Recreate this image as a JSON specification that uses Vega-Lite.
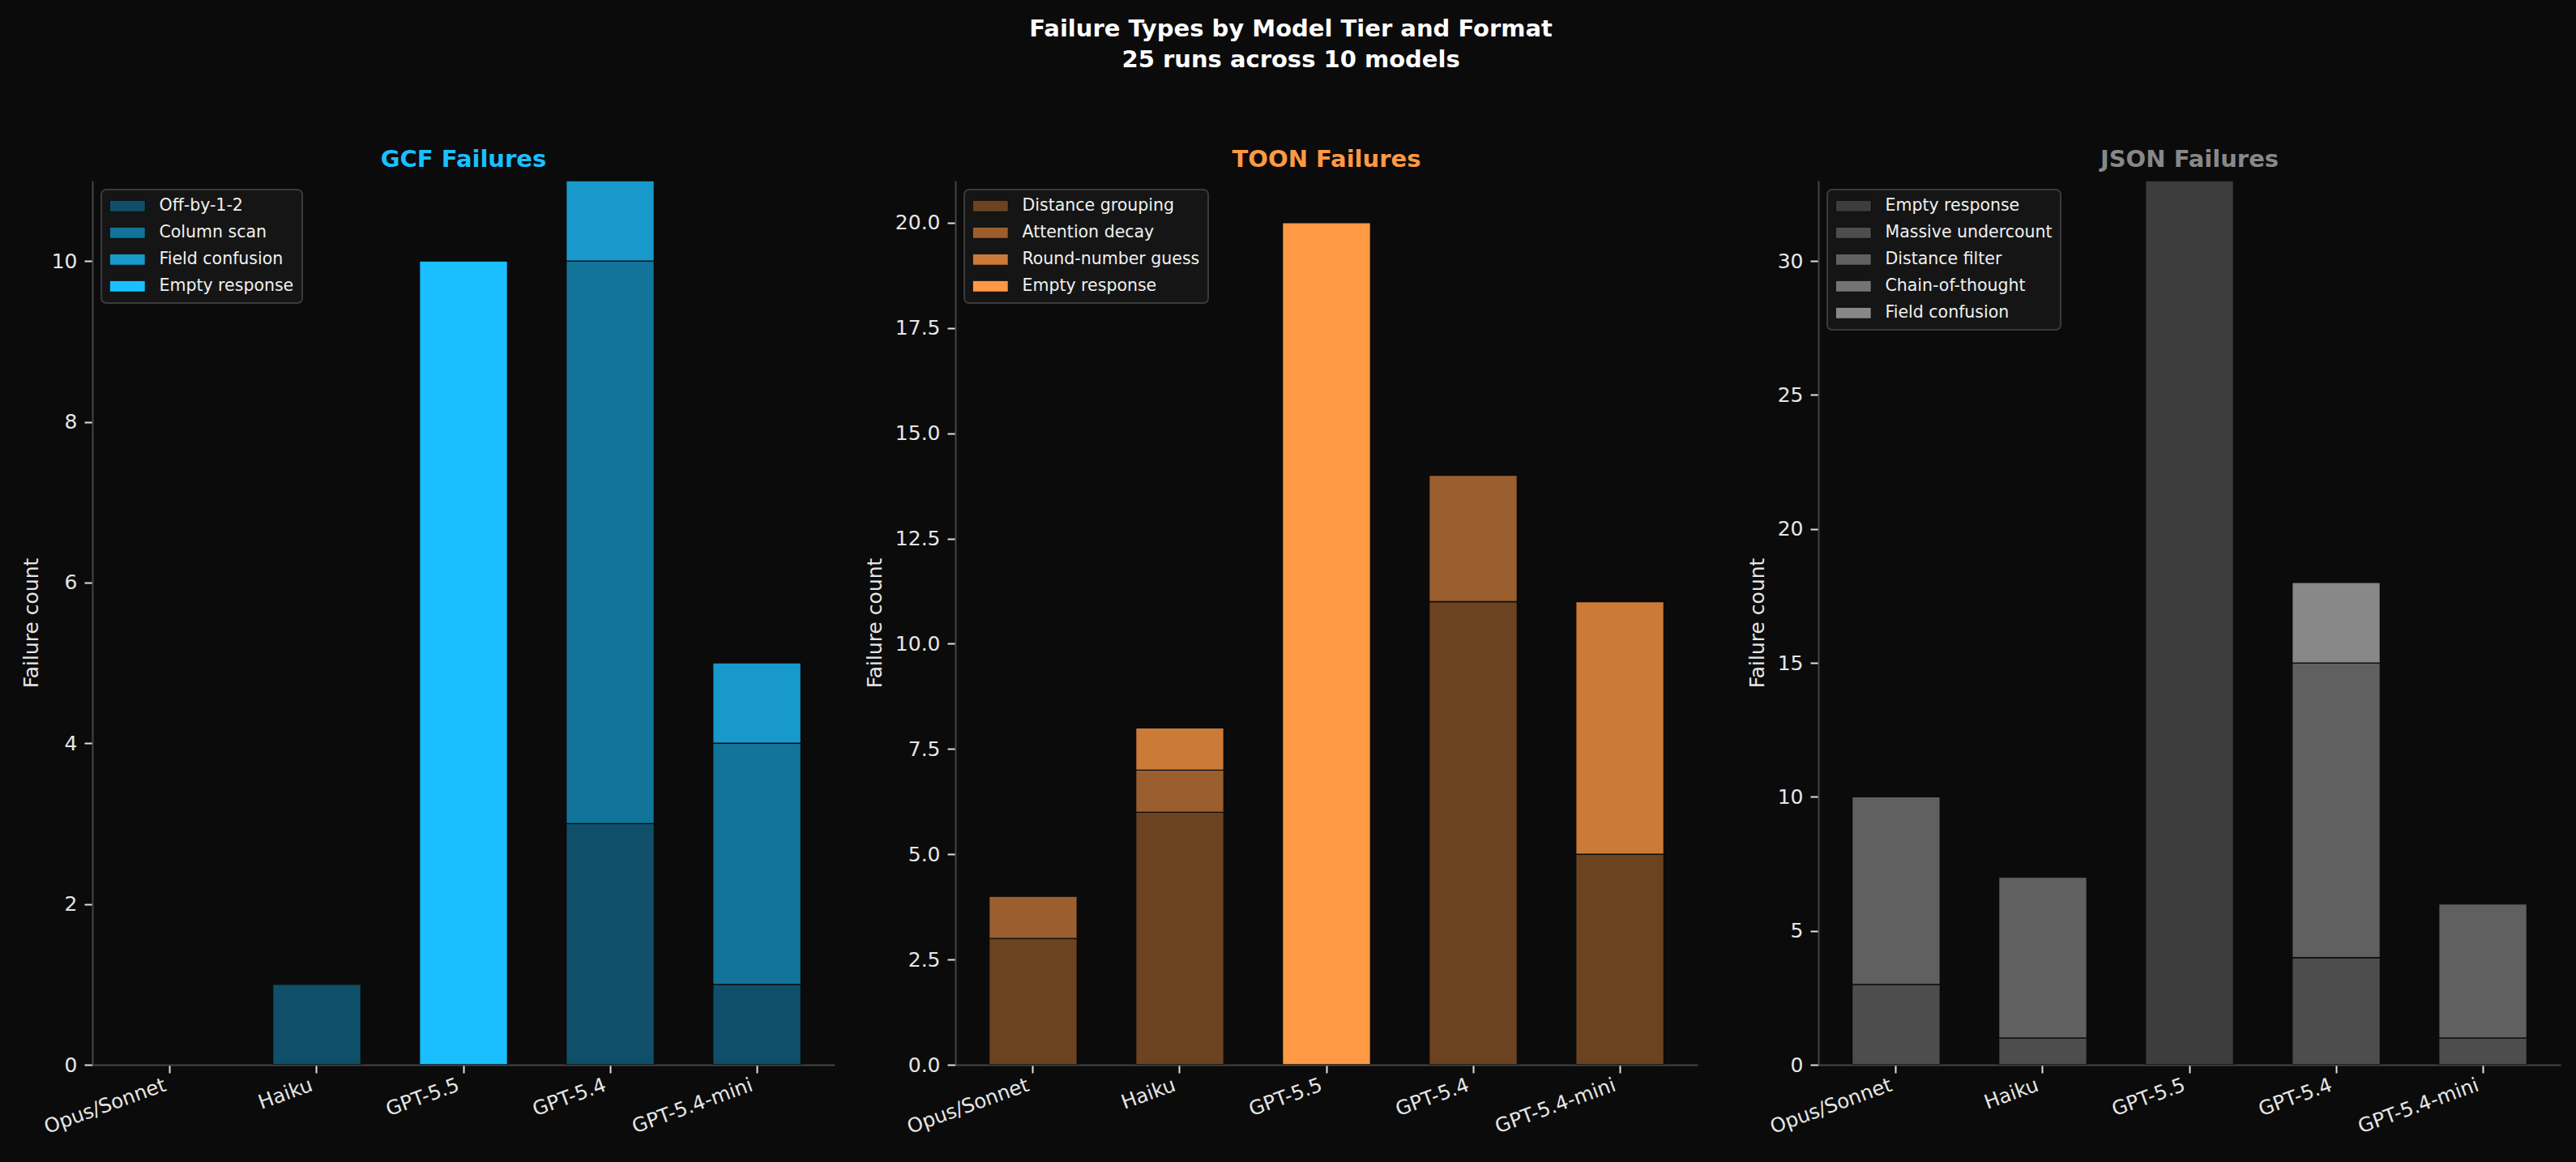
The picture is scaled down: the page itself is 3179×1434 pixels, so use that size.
{
  "$schema": "https://vega.github.io/schema/vega-lite/v6.json",
  "background": "#0b0b0b",
  "padding": {"left": 26, "top": 22, "right": 23, "bottom": 40},
  "title": {
    "text": ["Failure Types by Model Tier and Format", "25 runs across 10 models"],
    "fontSize": 29,
    "fontWeight": "bold",
    "color": "#ffffff",
    "anchor": "middle",
    "lineHeight": 38,
    "offset": 94
  },
  "datasets": {
    "gcf": [
      {"model": "Haiku", "type": "Off-by-1-2", "count": 1},
      {"model": "GPT-5.5", "type": "Empty response", "count": 10},
      {"model": "GPT-5.4", "type": "Off-by-1-2", "count": 3},
      {"model": "GPT-5.4", "type": "Column scan", "count": 7},
      {"model": "GPT-5.4", "type": "Field confusion", "count": 1},
      {"model": "GPT-5.4-mini", "type": "Off-by-1-2", "count": 1},
      {"model": "GPT-5.4-mini", "type": "Column scan", "count": 3},
      {"model": "GPT-5.4-mini", "type": "Field confusion", "count": 1}
    ],
    "gcfTypes": [
      {"type": "Off-by-1-2", "rank": 1},
      {"type": "Column scan", "rank": 2},
      {"type": "Field confusion", "rank": 3},
      {"type": "Empty response", "rank": 4}
    ],
    "toon": [
      {"model": "Opus/Sonnet", "type": "Distance grouping", "count": 3},
      {"model": "Opus/Sonnet", "type": "Attention decay", "count": 1},
      {"model": "Haiku", "type": "Distance grouping", "count": 6},
      {"model": "Haiku", "type": "Attention decay", "count": 1},
      {"model": "Haiku", "type": "Round-number guess", "count": 1},
      {"model": "GPT-5.5", "type": "Empty response", "count": 20},
      {"model": "GPT-5.4", "type": "Distance grouping", "count": 11},
      {"model": "GPT-5.4", "type": "Attention decay", "count": 3},
      {"model": "GPT-5.4-mini", "type": "Distance grouping", "count": 5},
      {"model": "GPT-5.4-mini", "type": "Round-number guess", "count": 6}
    ],
    "toonTypes": [
      {"type": "Distance grouping", "rank": 1},
      {"type": "Attention decay", "rank": 2},
      {"type": "Round-number guess", "rank": 3},
      {"type": "Empty response", "rank": 4}
    ],
    "json": [
      {"model": "Opus/Sonnet", "type": "Massive undercount", "count": 3},
      {"model": "Opus/Sonnet", "type": "Distance filter", "count": 7},
      {"model": "Haiku", "type": "Massive undercount", "count": 1},
      {"model": "Haiku", "type": "Distance filter", "count": 6},
      {"model": "GPT-5.5", "type": "Empty response", "count": 33},
      {"model": "GPT-5.4", "type": "Massive undercount", "count": 4},
      {"model": "GPT-5.4", "type": "Distance filter", "count": 11},
      {"model": "GPT-5.4", "type": "Field confusion", "count": 3},
      {"model": "GPT-5.4-mini", "type": "Massive undercount", "count": 1},
      {"model": "GPT-5.4-mini", "type": "Distance filter", "count": 5}
    ],
    "jsonTypes": [
      {"type": "Empty response", "rank": 1},
      {"type": "Massive undercount", "rank": 2},
      {"type": "Distance filter", "rank": 3},
      {"type": "Chain-of-thought", "rank": 4},
      {"type": "Field confusion", "rank": 5}
    ]
  },
  "spacing": 149,
  "bounds": "flush",
  "resolve": {
    "scale": {"color": "independent", "y": "independent", "x": "independent"},
    "axis": {"x": "independent", "y": "independent"},
    "legend": {"color": "independent"}
  },
  "hconcat": [
    {
      "data": {"name": "gcf"},
      "transform": [{"lookup": "type", "from": {"data": {"name": "gcfTypes"}, "key": "type", "fields": ["rank"]}}],
      "title": {"text": "GCF Failures", "color": "#1abfff", "fontSize": 29, "fontWeight": "bold", "offset": 11},
      "width": 916,
      "height": 1091,
      "mark": {"type": "bar", "clip": true, "stroke": "#0b0b0b", "strokeWidth": 1.3},
      "encoding": {
        "x": {
          "field": "model", "type": "nominal", "title": null,
          "scale": {"domain": ["Opus/Sonnet", "Haiku", "GPT-5.5", "GPT-5.4", "GPT-5.4-mini"], "paddingInner": 0.4, "paddingOuter": 0.23}
        },
        "y": {
          "field": "count", "type": "quantitative", "title": "Failure count",
          "scale": {"domain": [0, 11], "nice": false},
          "axis": {"values": [0, 2, 4, 6, 8, 10]}
        },
        "order": {"field": "rank", "type": "quantitative"},
        "color": {
          "field": "type", "type": "nominal",
          "scale": {"domain": ["Off-by-1-2", "Column scan", "Field confusion", "Empty response"], "range": ["#0f4f69", "#137499", "#179acb", "#1abfff"]},
          "legend": {"title": null}
        }
      }
    },
    {
      "data": {"name": "toon"},
      "transform": [{"lookup": "type", "from": {"data": {"name": "toonTypes"}, "key": "type", "fields": ["rank"]}}],
      "title": {"text": "TOON Failures", "color": "#ff9944", "fontSize": 29, "fontWeight": "bold", "offset": 11},
      "width": 916,
      "height": 1091,
      "mark": {"type": "bar", "clip": true, "stroke": "#0b0b0b", "strokeWidth": 1.3},
      "encoding": {
        "x": {
          "field": "model", "type": "nominal", "title": null,
          "scale": {"domain": ["Opus/Sonnet", "Haiku", "GPT-5.5", "GPT-5.4", "GPT-5.4-mini"], "paddingInner": 0.4, "paddingOuter": 0.23}
        },
        "y": {
          "field": "count", "type": "quantitative", "title": "Failure count",
          "scale": {"domain": [0, 21], "nice": false},
          "axis": {"values": [0, 2.5, 5, 7.5, 10, 12.5, 15, 17.5, 20], "format": ".1f"}
        },
        "order": {"field": "rank", "type": "quantitative"},
        "color": {
          "field": "type", "type": "nominal",
          "scale": {"domain": ["Distance grouping", "Attention decay", "Round-number guess", "Empty response"], "range": ["#6b4321", "#9b5e2e", "#cc7a38", "#ff9944"]},
          "legend": {"title": null}
        }
      }
    },
    {
      "data": {"name": "json"},
      "transform": [{"lookup": "type", "from": {"data": {"name": "jsonTypes"}, "key": "type", "fields": ["rank"]}}],
      "title": {"text": "JSON Failures", "color": "#888888", "fontSize": 29, "fontWeight": "bold", "offset": 11},
      "width": 916,
      "height": 1091,
      "mark": {"type": "bar", "clip": true, "stroke": "#0b0b0b", "strokeWidth": 1.3},
      "encoding": {
        "x": {
          "field": "model", "type": "nominal", "title": null,
          "scale": {"domain": ["Opus/Sonnet", "Haiku", "GPT-5.5", "GPT-5.4", "GPT-5.4-mini"], "paddingInner": 0.4, "paddingOuter": 0.23}
        },
        "y": {
          "field": "count", "type": "quantitative", "title": "Failure count",
          "scale": {"domain": [0, 33], "nice": false},
          "axis": {"values": [0, 5, 10, 15, 20, 25, 30]}
        },
        "order": {"field": "rank", "type": "quantitative"},
        "color": {
          "field": "type", "type": "nominal",
          "scale": {"domain": ["Empty response", "Massive undercount", "Distance filter", "Chain-of-thought", "Field confusion"], "range": ["#3d3d3d", "#4d4d4d", "#606060", "#747474", "#888888"]},
          "legend": {"title": null}
        }
      }
    }
  ],
  "config": {
    "font": "DejaVu Sans",
    "view": {"stroke": null},
    "axis": {
      "grid": false,
      "domainColor": "#444444",
      "domainWidth": 2,
      "tickColor": "#e0e0e0",
      "tickWidth": 2,
      "tickSize": 10,
      "labelColor": "#e6e6e6",
      "labelFont": "DejaVu Sans",
      "labelFontSize": 25,
      "labelPadding": 9,
      "titleColor": "#e6e6e6",
      "titleFont": "DejaVu Sans",
      "titleFontSize": 25,
      "titleFontWeight": "normal",
      "titlePadding": 12
    },
    "axisX": {
      "labelAngle": -20,
      "labelAlign": "right",
      "labelBaseline": "top",
      "labelFontSize": 24.5,
      "labelPadding": 3,
      "labelOffset": -10
    },
    "legend": {
      "orient": "top-left",
      "offset": 11,
      "fillColor": "#151515",
      "strokeColor": "#3a3a3a",
      "strokeWidth": 2,
      "cornerRadius": 6,
      "padding": 10,
      "labelColor": "#f0f0f0",
      "labelFont": "DejaVu Sans",
      "labelFontSize": 20.5,
      "labelLimit": 500,
      "symbolType": "M-3.14,-1H3.14V1H-3.14Z",
      "symbolSize": 196,
      "symbolStrokeColor": "#0b0b0b",
      "symbolStrokeWidth": 1,
      "symbolOpacity": 1,
      "symbolOffset": 12,
      "labelOffset": 29,
      "rowPadding": 12
    }
  }
}
